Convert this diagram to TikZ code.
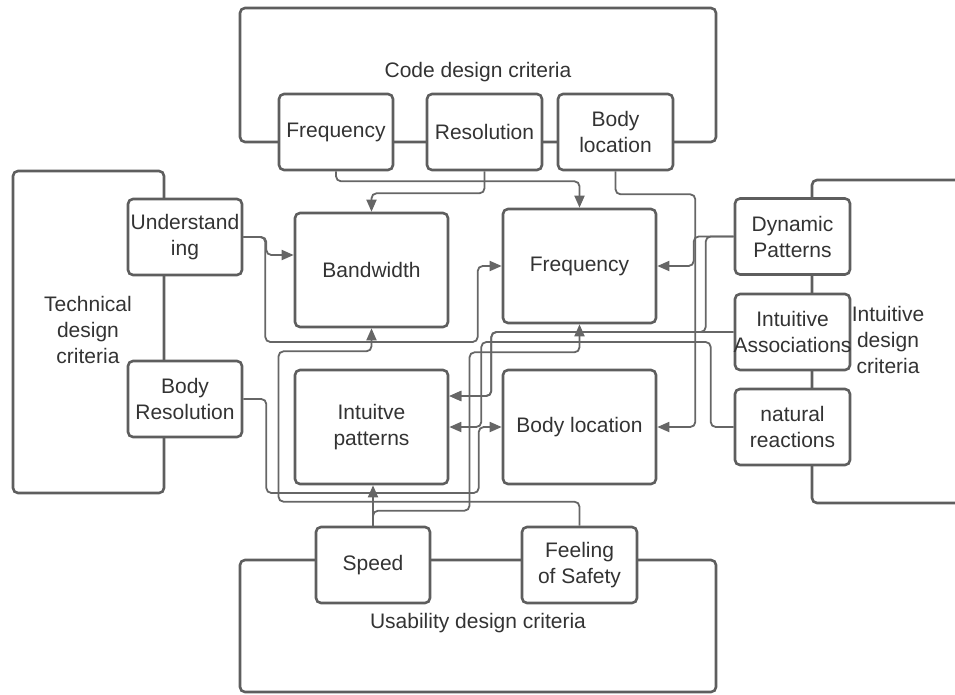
\documentclass[tikz,border=0pt]{standalone}
\usepackage{fontspec}
\setmainfont{Liberation Sans}
\usetikzlibrary{arrows.meta,calc}
\definecolor{edge}{HTML}{5E5E5E}
\definecolor{wirec}{HTML}{666666}
\definecolor{ink}{HTML}{333333}
\newcommand\labelfont{\fontsize{21}{26}\selectfont}
\tikzset{
  frame/.style={draw=edge, line width=2.6pt, rounded corners=5pt},
  crit/.style={draw=edge, line width=2.6pt, rounded corners=5pt, fill=white,
    inner sep=0pt, align=center, text=ink, font=\labelfont,
    minimum width=114pt, minimum height=76pt},
  hub/.style={crit, minimum width=153pt, minimum height=114pt},
  caption/.style={text=ink, font=\labelfont, align=center, inner sep=0pt},
  wire/.style={draw=wirec, line width=1.8pt, rounded corners=5pt,
    -{Triangle[length=12pt,width=10pt]}},
}
\begin{document}
\begin{tikzpicture}[x=1pt,y=-1pt]
\useasboundingbox (0,0) rectangle (955,694);
\clip (0,0) rectangle (955,694);

% group frames
\draw[frame] (240,8) rectangle (716,142);
\draw[frame] (13,171) rectangle (164,493);
\draw[frame] (812,180) rectangle (990,503);
\draw[frame] (240,560) rectangle (716,692);

% group captions
\node[caption] (codecap) at (478,72) {Code design criteria};
\node[caption] (techcap) at (88,330) {Technical\\design\\criteria};
\node[caption] (intcap) at (888,340) {Intuitive\\design\\criteria};
\node[caption] (usecap) at (478,623) {Usability design criteria};

% criteria boxes
\node[crit] (freqT) at (336,132) {Frequency};
\node[crit, minimum width=115pt] (resT) at (484.5,132) {Resolution};
\node[crit, minimum width=115pt] (bodyT) at (615.5,132) {Body\\location};
\node[crit] (und) at (185,237) {Understand\\ing};
\node[crit] (bres) at (185,399) {Body\\Resolution};
\node[hub] (band) at (371.5,270) {Bandwidth};
\node[hub] (freqM) at (579.5,266) {Frequency};
\node[hub] (intu) at (371.5,427) {Intuitve\\patterns};
\node[hub] (bodyM) at (579.5,427) {Body location};
\node[crit, minimum width=115pt] (dyn) at (792.5,236.5) {Dynamic\\Patterns};
\node[crit, minimum width=115pt] (assoc) at (792.5,332) {Intuitive\\\makebox[0pt]{Associations}};
\node[crit, minimum width=115pt] (nat) at (792.5,427) {natural\\reactions};
\node[crit] (speed) at (373,565) {Speed};
\node[crit, minimum width=115pt] (feel) at (579.5,565) {Feeling\\of Safety};

% connectors
\draw[wire] (freqT.south) -- ++(0,10) -| (freqM.north);
\draw[wire] (resT.south) -- ++(0,22) -| (band.north);
\draw[wire] (bodyT.south) -- ++(0,23) -| ($(bodyM.east)+(38,0)$) -- (bodyM.east);
\draw[wire] (dyn.west) -- ++(-40,0) |- (freqM.east);
\draw[wire] (dyn.west) -| ($(assoc.west)+(-28,0)$) -| ($(intu.east)+(42,-31)$) -- ($(intu.east)+(0,-31)$);
\draw[wire] (assoc.west) -| ($(intu.east)+(42,-31)$) -- ($(intu.east)+(0,-31)$);
\draw[wire] (nat.west) -- ++(-23,0) |- ($(intu.east)+(32,-85)$) |- (intu.east);
\draw[wire] (und.east) -- ++(23,0) |- ($(band.west)+(0,-15)$);
\draw[wire] (und.east) -- ++(22,0) |- ($(freqM.west)+(-24,76)$) |- (freqM.west);
\draw[wire] (bres.east) -- ++(23,0) |- ($(bodyM.west)+(-23,66)$) |- (bodyM.west);
\draw[wire] (speed.north) -- (speed.north |- intu.south);
\draw[wire] (speed.north) -- ++(0,-15) -| ($(freqM.south)+(-110,28)$) -| (freqM.south);
\draw[wire] (feel.north) -- ++(0,-24) -| ($(band.south)+(-93,23)$) -| (band.south);
\end{tikzpicture}
\end{document}
